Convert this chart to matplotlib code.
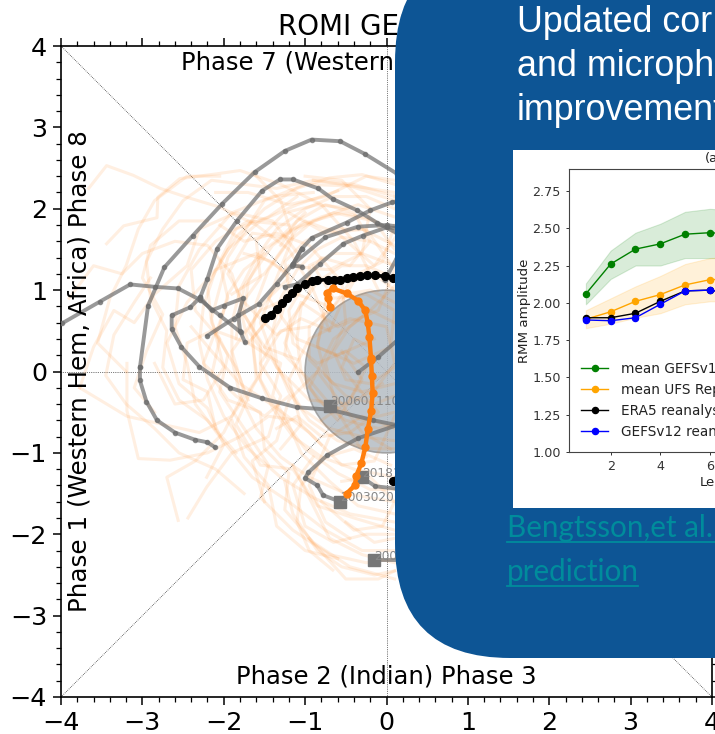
#!/usr/bin/env python3
"""ROMI phase diagram with the slide panel and skill inset laid over it."""

import matplotlib

matplotlib.use("Agg")
import matplotlib.pyplot as plt
from matplotlib.lines import Line2D
from matplotlib.patches import Circle, FancyBboxPatch, Rectangle

W, H = 715, 734

# faint ensemble members, (x, y)
orange_tracks = [
    [(-3.66, 2.25), (-3.44, 2.53), (-3.11, 2.41), (-2.78, 2.25), (-2.45, 2.14), (-2.05, 2.02), (-1.6, 1.8), (-1.2, 1.5), (-0.9, 1.0), (-0.7, 0.5)],
    [(-3.44, 1.57), (-3.23, 1.79), (-2.82, 1.89), (-2.81, 2.14), (-2.54, 2.37), (-2.08, 2.43), (-1.8, 2.47), (-1.3, 2.3), (-0.8, 2.05), (-0.4, 1.6), (-0.1, 1.0)],
    [(-3.9, 0.9), (-3.6, 1.3), (-3.25, 1.2), (-3.0, 1.45), (-2.6, 1.6), (-2.2, 1.55), (-1.9, 1.2), (-1.75, 0.7), (-1.5, 0.3), (-1.1, 0.15)],
    [(-3.77, -0.2), (-3.6, 0.3), (-3.35, 0.75), (-3.1, 0.6), (-2.85, 0.95), (-2.45, 1.3), (-2.3, 1.75), (-1.85, 1.95), (-1.4, 1.85), (-1.05, 1.4)],
    [(-3.19, 0.1), (-3.19, -0.48), (-3.05, -1.07), (-2.66, -1.09), (-2.2, -1.0), (-1.8, -0.8), (-1.45, -0.55), (-1.1, -0.6), (-0.8, -0.9)],
    [(-3.77, -0.2), (-3.19, -0.55), (-2.75, -0.65), (-2.3, -0.75), (-1.9, -0.55), (-1.6, -0.1), (-1.65, 0.4), (-1.3, 0.85)],
    [(-2.56, -1.83), (-2.7, -1.3), (-2.35, -1.1), (-2.0, -0.75), (-1.75, -0.25), (-1.9, 0.25), (-1.55, 0.75), (-1.1, 0.95), (-0.7, 0.8)],
    [(-2.44, -1.8), (-2.21, -1.42), (-1.9, -1.0), (-1.45, -0.8), (-1.3, -0.3), (-1.55, 0.1), (-1.3, 0.5), (-0.95, 0.55)],
    [(-2.21, -1.3), (-2.0, -0.9), (-2.2, -0.45), (-2.55, -0.15), (-2.7, 0.35), (-2.45, 0.85), (-2.1, 1.25), (-1.6, 1.45), (-1.2, 1.2)],
    [(-2.85, 0.1), (-2.6, -0.4), (-2.25, -0.35), (-2.0, 0.05), (-2.15, 0.65), (-1.95, 1.4), (-1.5, 2.1), (-1.0, 2.3), (-0.45, 2.28), (0.1, 2.1)],
    [(-1.65, 2.45), (-1.3, 2.1), (-1.15, 1.65), (-1.35, 1.15), (-1.55, 0.6), (-1.35, 0.05), (-0.95, -0.35), (-0.45, -0.4), (-0.05, -0.15)],
    [(-1.0, 2.4), (-0.55, 2.35), (-0.2, 2.0), (-0.3, 1.45), (-0.7, 1.25), (-1.2, 1.3), (-1.45, 0.9), (-1.1, 0.4), (-0.6, 0.2), (-0.15, 0.4)],
    [(-0.9, 2.35), (-0.35, 2.27), (0.1, 2.2), (0.15, 1.7), (-0.15, 1.3), (-0.6, 1.7), (-1.0, 1.85), (-1.4, 1.55), (-1.75, 1.05), (-1.85, 0.4)],
    [(-1.2, 1.95), (-0.75, 1.7), (-0.25, 1.75), (0.1, 1.25), (-0.1, 0.75), (-0.6, 0.55), (-1.05, 0.85), (-1.25, 0.35), (-1.0, -0.2)],
    [(-1.5, -1.6), (-1.65, -1.1), (-1.35, -0.85), (-1.2, -0.35), (-0.85, 0.0), (-0.55, -0.4), (-0.3, -0.75), (0.05, -0.95)],
    [(-1.15, -1.15), (-0.95, -1.55), (-0.7, -2.05), (-0.3, -2.25), (0.1, -2.35)],
    [(-0.66, -2.44), (-0.95, -2.2), (-1.1, -1.85), (-1.05, -1.4), (-0.75, -1.05), (-0.4, -0.95), (0.05, -1.15)],
    [(-0.95, -2.05), (-0.5, -2.55), (-0.1, -2.55), (0.1, -2.45)],
    [(-0.45, -2.05), (-0.75, -1.85), (-0.95, -1.4), (-0.7, -0.8), (-0.3, -0.55), (0.1, -0.7)],
    [(-0.8, -1.6), (-0.4, -1.95), (-0.05, -1.9), (0.1, -1.6), (-0.2, -1.3), (-0.55, -1.35)],
    [(-0.5, -1.85), (-0.15, -2.1), (0.1, -2.05)],
    [(-1.3, -0.95), (-1.05, -0.65), (-1.2, -0.1), (-0.95, 0.4), (-0.45, 0.65), (0.0, 0.55), (0.1, 0.1), (-0.2, -0.3)],
    [(-0.9, 1.3), (-0.65, 0.9), (-0.25, 0.95), (0.1, 0.75), (0.05, 0.3), (-0.4, 0.1), (-0.85, 0.3), (-0.75, 0.85)],
    [(-2.05, 1.8), (-1.75, 1.6), (-1.35, 1.7), (-0.95, 1.55), (-0.55, 1.1), (-0.5, 0.6), (-0.75, 0.1), (-0.6, -0.5), (-0.25, -1.05)],
    [(-2.4, 0.55), (-2.15, 0.25), (-1.8, -0.15), (-1.35, -0.45), (-0.95, -0.75), (-0.55, -1.15), (-0.15, -1.1), (0.1, -0.55)],
    [(-2.1, 2.2), (-1.7, 2.2), (-1.2, 2.05), (-0.75, 2.15), (-0.25, 2.4), (0.1, 2.35)],
    [(-1.9, 0.95), (-1.5, 1.2), (-1.1, 1.75), (-0.65, 1.95), (-0.15, 1.85), (0.1, 1.5)],
    [(-1.2, -0.3), (-1.5, -0.55), (-1.85, -0.3), (-2.25, 0.1), (-2.1, 0.5), (-1.7, 0.35), (-1.35, 0.75)],
    [(-0.55, 0.25), (-0.3, -0.1), (-0.6, -0.6), (-0.95, -0.2), (-0.65, 0.4), (-0.2, 0.75), (0.1, 1.05)],
    [(0.1, 2.3), (-0.3, 2.42), (-0.7, 2.38), (-1.1, 2.25), (-1.5, 2.0), (-1.85, 1.65), (-2.1, 1.25), (-2.25, 0.8), (-2.3, 0.35), (-2.2, -0.1), (-2.0, -0.55), (-1.7, -0.95), (-1.3, -1.3), (-0.9, -1.55), (-0.45, -1.75), (0.1, -1.85)],
    [(0.1, 2.0), (-0.25, 2.15), (-0.65, 2.15), (-1.0, 2.0), (-1.35, 1.75), (-1.6, 1.4), (-1.8, 1.0), (-1.9, 0.6), (-1.9, 0.15), (-1.8, -0.3), (-1.6, -0.7), (-1.3, -1.05), (-0.95, -1.3), (-0.5, -1.5), (0.1, -1.6)],
    [(0.1, 1.7), (-0.2, 1.88), (-0.55, 1.95), (-0.9, 1.85), (-1.2, 1.6), (-1.45, 1.25), (-1.6, 0.85), (-1.65, 0.4), (-1.6, 0.0), (-1.4, -0.45), (-1.15, -0.8), (-0.8, -1.05), (-0.4, -1.2), (0.1, -1.3)],
    [(0.1, 1.45), (-0.2, 1.6), (-0.55, 1.65), (-0.85, 1.5), (-1.1, 1.25), (-1.3, 0.9), (-1.4, 0.5), (-1.35, 0.1), (-1.2, -0.25), (-0.95, -0.6), (-0.6, -0.85), (-0.2, -0.95), (0.1, -0.95)],
    [(0.1, 1.15), (-0.25, 1.3), (-0.55, 1.3), (-0.85, 1.1), (-1.05, 0.8), (-1.1, 0.4), (-1.05, 0.0), (-0.85, -0.35), (-0.5, -0.6), (-0.1, -0.7), (0.1, -0.65)],
    [(0.1, 0.85), (-0.2, 1.0), (-0.5, 0.95), (-0.75, 0.7), (-0.85, 0.35), (-0.75, -0.05), (-0.5, -0.3), (-0.15, -0.4), (0.1, -0.3)],
    [(0.1, 2.15), (-0.4, 2.3), (-0.9, 2.35), (-1.35, 2.25), (-1.75, 2.3), (-2.15, 2.35), (-2.5, 2.1), (-2.75, 1.75), (-2.95, 1.35), (-2.9, 0.9), (-2.7, 0.5), (-2.75, 0.05), (-2.55, -0.35), (-2.2, -0.6), (-1.85, -1.0)],
    [(-0.9, 2.2), (-1.4, 2.15), (-1.9, 1.95), (-2.3, 1.5), (-2.55, 1.05), (-2.6, 0.55), (-2.45, 0.1), (-2.35, -0.4), (-2.05, -0.8), (-1.65, -1.3), (-1.2, -1.6), (-0.75, -1.95), (-0.3, -2.2), (0.1, -2.2)],
    [(-1.2, 1.8), (-1.7, 1.85), (-2.1, 1.6), (-2.4, 1.25), (-2.35, 0.75), (-2.05, 0.4), (-2.15, -0.05), (-1.95, -0.35), (-1.55, -0.5), (-1.5, -0.95), (-1.2, -1.25), (-1.25, -1.7), (-0.9, -2.1), (-0.45, -2.4), (0.1, -2.55)],
    [(-0.4, 2.0), (-0.85, 2.05), (-1.25, 1.95), (-1.6, 1.6), (-1.55, 1.15), (-1.8, 0.8), (-1.7, 0.35), (-1.3, 0.1), (-1.4, -0.3), (-1.2, -0.65), (-1.05, -1.0), (-0.7, -1.35), (-0.35, -1.65), (0.1, -1.75)],
    [(-2.9, 1.15), (-3.1, 0.85), (-3.35, 0.45), (-3.45, -0.05), (-3.2, -0.4), (-2.85, -0.7), (-2.55, -1.0), (-2.1, -1.2), (-1.75, -1.5)],
    [(-1.5, 1.45), (-1.75, 1.25), (-1.95, 0.95), (-2.05, 0.55), (-2.45, 0.35), (-2.5, -0.1), (-2.2, -0.25), (-2.1, -0.7)],
    [(-1.3, 1.55), (-1.1, 1.85), (-0.75, 2.05), (-0.4, 1.95), (-0.2, 1.6), (-0.45, 1.3), (-0.8, 1.4), (-1.0, 1.1), (-1.2, 0.75), (-1.15, 0.35), (-0.85, 0.1), (-0.5, 0.25), (-0.25, 0.05), (-0.45, -0.35), (-0.8, -0.6)],
    [(-1.25, -1.35), (-1.15, -1.75), (-0.85, -2.2), (-0.55, -2.4), (-0.15, -2.5), (0.1, -2.45)],
    [(-0.9, -1.05), (-1.15, -1.4), (-1.0, -1.9), (-0.65, -2.1), (-0.25, -2.0), (0.1, -2.0)],
    [(-1.9, -0.6), (-1.75, -1.05), (-1.45, -1.4), (-1.35, -1.9), (-1.0, -2.2), (-0.6, -2.3)],
    [(-2.05, 2.4), (-2.45, 2.4), (-2.85, 2.1), (-3.05, 1.75), (-3.2, 1.3), (-3.4, 0.9), (-3.55, 0.35), (-3.2, 0.0)],
    [(-2.2, 1.85), (-2.55, 1.85), (-2.9, 1.55), (-3.0, 1.15), (-2.75, 0.7), (-2.95, 0.25), (-3.1, -0.2), (-2.85, -0.5)],
    [(-1.1, 2.15), (-1.45, 1.9), (-1.85, 1.75), (-2.05, 1.35), (-1.95, 0.9), (-2.1, 0.45), (-1.85, 0.05), (-1.7, -0.35)],
    [(0.1, 1.9), (-0.35, 2.05), (-0.8, 1.9), (-1.15, 1.75), (-1.5, 1.5), (-1.7, 1.1), (-1.75, 0.7), (-1.55, 0.35), (-1.55, -0.1), (-1.3, -0.55), (-1.0, -0.95), (-0.6, -1.25), (-0.2, -1.45), (0.1, -1.45)],
    [(0.1, 1.55), (-0.3, 1.75), (-0.7, 1.75), (-1.0, 1.6), (-1.25, 1.35), (-1.2, 1.0), (-1.3, 0.65), (-1.5, 0.3), (-1.25, -0.1), (-1.05, -0.45), (-0.7, -0.7), (-0.3, -0.8), (0.1, -0.85)],
    [(0.1, 1.3), (-0.3, 1.45), (-0.65, 1.45), (-0.95, 1.3), (-0.95, 0.95), (-1.2, 0.6), (-1.25, 0.2), (-0.95, -0.1), (-0.7, -0.4), (-0.3, -0.6), (0.1, -0.5)],
    [(0.1, 1.0), (-0.15, 1.2), (-0.45, 1.1), (-0.65, 0.8), (-0.95, 0.55), (-0.95, 0.15), (-0.65, -0.15), (-0.3, -0.25), (0.1, -0.15)],
    [(0.1, 0.6), (-0.2, 0.75), (-0.45, 0.55), (-0.65, 0.25), (-0.5, -0.1), (-0.2, -0.15), (0.1, 0.05)],
    [(-0.2, 0.3), (-0.4, 0.4), (-0.55, 0.05), (-0.35, -0.2), (-0.1, -0.5), (-0.45, -0.75), (-0.8, -0.8), (-1.1, -0.55), (-1.35, -0.7)],
    [(-1.75, 1.45), (-1.4, 1.35), (-1.2, 1.15), (-1.5, 0.85), (-1.7, 0.5), (-1.45, 0.15), (-1.65, -0.2), (-1.85, -0.65), (-1.55, -1.15), (-1.15, -1.2), (-0.85, -1.65), (-0.4, -1.8), (0.1, -1.95)],
    [(-0.6, 2.22), (-1.1, 2.05), (-1.55, 1.85), (-1.95, 1.5), (-2.2, 1.05), (-2.15, 0.6), (-1.95, 0.2), (-2.05, -0.25), (-1.75, -0.7), (-1.45, -1.15), (-1.55, -1.55), (-1.15, -1.95), (-0.7, -2.25), (-0.25, -2.35), (0.1, -2.3)],
    [(-1.0, 1.95), (-1.3, 1.65), (-1.65, 1.7), (-1.95, 1.2), (-1.75, 0.85), (-1.35, 0.45), (-1.05, 0.65), (-0.7, 0.5), (-0.55, 0.85), (-0.35, 1.2), (-0.05, 1.35), (0.1, 1.8)],
]
grey_tracks = [
    [(-3.03, 0.05), (-2.93, 0.81), (-2.73, 1.28), (-2.38, 1.67), (-2.02, 2.06), (-1.62, 2.45), (-1.25, 2.71), (-0.92, 2.85), (-0.57, 2.83), (-0.26, 2.67), (0.13, 2.43)],
    [(-3.03, 0.05), (-3.03, -0.11), (-2.95, -0.37), (-2.82, -0.6), (-2.6, -0.75), (-2.35, -0.84), (-2.2, -0.87), (-2.11, -0.93)],
    [(-1.74, 0.36), (-1.8, 0.5), (-1.82, 0.69), (-1.76, 0.9), (-2.0, 0.81), (-2.15, 0.75), (-2.29, 0.91), (-2.2, 1.14), (-2.08, 1.51), (-1.84, 1.85), (-1.53, 2.22), (-1.31, 2.36), (-1.15, 2.36), (-0.84, 2.25), (-0.66, 2.12), (-0.36, 1.98), (-0.12, 1.83), (0.13, 1.7)],
    [(-4.3, 0.4), (-3.99, 0.59), (-3.52, 0.86), (-3.15, 1.07), (-2.84, 1.04), (-2.56, 1.02), (-2.29, 0.88), (-2.05, 0.69), (-1.79, 0.48)],
    [(-2.29, 0.91), (-2.41, 0.79), (-2.64, 0.69), (-2.64, 0.52), (-2.52, 0.3), (-2.3, 0.06), (-1.92, -0.2), (-1.53, -0.33), (-1.1, -0.44), (-0.69, -0.47), (-0.16, -0.6), (0.13, -0.66)],
    [(-2.2, 0.44), (-1.88, 0.65), (-1.57, 0.83), (-1.35, 1.08), (-1.15, 1.32), (-1.04, 1.51), (-0.92, 1.64), (-0.49, 1.83), (-0.2, 1.98), (0.07, 2.08), (0.2, 2.1)],
    [(-1.04, 1.29), (-1.16, 1.3), (-1.04, 1.51)],
    [(-1.25, 1.04), (-1.1, 1.07), (-0.82, 1.32), (-0.53, 1.57), (-0.29, 1.67), (0.0, 1.77), (0.15, 1.76)],
    [(-1.15, 1.32), (-0.75, 1.65), (-0.35, 1.78), (0.0, 1.8), (0.15, 1.78)],
    [(0.13, -0.66), (-0.35, -0.82), (-0.73, -1.03), (-0.96, -1.24), (-1.0, -1.31), (-0.85, -1.4), (-0.78, -1.52), (-0.57, -1.6)],
    [(-0.3, -1.3), (-0.14, -1.41), (0.13, -1.44)],
    [(-0.15, -2.32), (0.2, -2.32)],
    [(-0.35, -0.01), (-0.1, 0.18), (0.13, 0.38)],
    [(-0.02, 1.12), (0.13, 1.4)],
]
start_x = [-0.69, -0.57, -0.3, -0.15]
start_y = [-0.42, -1.6, -1.3, -2.32]
start_labels = ["2006011100", "2003020100", "2018120100", "2002010100"]

black_x = [-1.49, -1.42, -1.35, -1.28, -1.22, -1.16, -1.1, -1.0, -0.92, -0.85, -0.72, -0.65, -0.57, -0.49, -0.41, -0.32, -0.24, -0.14, -0.02, 0.08, 0.3, 0.6, 0.4, 0.08]
black_y = [0.66, 0.7, 0.77, 0.84, 0.9, 0.96, 1.02, 1.08, 1.11, 1.12, 1.13, 1.13, 1.13, 1.15, 1.16, 1.17, 1.18, 1.18, 1.17, 1.15, 1.1, 0.0, -1.2, -1.34]
mean_x = [-0.49, -0.39, -0.37, -0.31, -0.26, -0.23, -0.19, -0.17, -0.18, -0.19, -0.19, -0.21, -0.23, -0.26, -0.35, -0.49, -0.66, -0.73, -0.72, -0.69]
mean_y = [-1.5, -1.4, -1.28, -1.13, -0.93, -0.71, -0.49, -0.27, -0.05, 0.14, 0.16, 0.42, 0.59, 0.75, 0.87, 0.96, 1.02, 0.97, 0.9, 0.79]

# inset panel
lead = [1, 2, 3, 4, 5, 6, 7]
gefs_mean = [2.06, 2.26, 2.36, 2.395, 2.46, 2.47, 2.46]
gefs_hi = [2.13, 2.35, 2.47, 2.53, 2.61, 2.63, 2.62]
gefs_lo = [1.99, 2.16, 2.25, 2.25, 2.30, 2.30, 2.30]
ufs_mean = [1.89, 1.94, 2.01, 2.055, 2.12, 2.155, 2.16]
ufs_hi = [1.95, 2.03, 2.11, 2.18, 2.26, 2.30, 2.31]
ufs_lo = [1.83, 1.86, 1.90, 1.93, 1.99, 2.01, 2.01]
era5 = [1.90, 1.90, 1.93, 2.01, 2.08, 2.085, 2.06]
gefs_rean = [1.885, 1.88, 1.90, 1.99, 2.08, 2.085, 2.06]
inset_labels = ["mean GEFSv12", "mean UFS Replay", "ERA5 reanalysis", "GEFSv12 reanalysis"]
inset_yticks = [1.00, 1.25, 1.50, 1.75, 2.00, 2.25, 2.50, 2.75]
ticks = [-4, -3, -2, -1, 0, 1, 2, 3, 4]


def axes_px(left, top, right, bottom):
    return [left / W, 1 - bottom / H, (right - left) / W, (bottom - top) / H]


fig = plt.figure(figsize=(W / 100, H / 100), dpi=100, facecolor="white")

# main phase diagram
ax = fig.add_axes(axes_px(61, 46, 712, 697), zorder=1)
ax.set_xlim(-4, 4)
ax.set_ylim(-4, 4)
ax.set_xticks(ticks)
ax.set_yticks(ticks)
ax.set_xticks([i * 0.2 for i in range(-20, 21)], minor=True)
ax.set_yticks([i * 0.2 for i in range(-20, 21)], minor=True)
ax.tick_params(which="major", length=6, width=1.1, labelsize=18.3, pad=4,
               top=True, right=True)
ax.tick_params(which="minor", length=3.4, width=0.9, top=True, right=True)
for s in ax.spines.values():
    s.set_linewidth(1.2)

ax.plot([-4, 4], [-4, 4], color="k", lw=0.5, ls=":", zorder=2)
ax.plot([-4, 4], [4, -4], color="k", lw=0.5, ls=":", zorder=2)
ax.plot([-4, 4], [0, 0], color="k", lw=0.5, ls=":", zorder=2)
ax.plot([0, 0], [-4, 4], color="k", lw=0.5, ls=":", zorder=2)

ax.add_patch(Circle((0, 0), 1, facecolor="#b4bcc4", edgecolor="#9a9a9a", lw=1.2,
                    alpha=0.85, zorder=2.5))
for tr in orange_tracks:
    ax.plot([p[0] for p in tr], [p[1] for p in tr], color="#ff7f0e", lw=2.2,
            alpha=0.12, solid_joinstyle="round", zorder=3)

for tr in grey_tracks:
    ax.plot([p[0] for p in tr], [p[1] for p in tr], color="#6e6e6e", lw=2.8,
            alpha=0.7, marker="o", ms=3, zorder=5)
ax.plot(start_x, start_y, ls="none", marker="s", ms=9, color="#777777", zorder=6)
for x, y, lab in zip(start_x, start_y, start_labels):
    ax.text(x + 0.0, y - 0.03, lab, fontsize=8.7, color="#888888", va="bottom", zorder=6)

ax.plot(black_x, black_y, color="k", lw=2.6, marker="o", ms=5.6, zorder=7)
ax.plot(mean_x, mean_y, color="#ff7f0e", lw=3.2, marker="o", ms=5, zorder=8)

phase_fs = 17.5
ax.text(0, 3.8, "Phase 7 (Western Pacific) Phase 6", fontsize=phase_fs, ha="center", va="center", zorder=9)
ax.text(0, -3.75, "Phase 2 (Indian) Phase 3", fontsize=phase_fs, ha="center", va="center", zorder=9)
ax.text(-3.77, 0, "Phase 1 (Western Hem, Africa) Phase 8", fontsize=17.7, rotation=90,
        ha="center", va="center", zorder=9)
ax.set_title("ROMI GEFSv12", fontsize=20, x=(278 - 61) / 651, ha="left", pad=8)

# slide panel in pixel coordinates
ov = fig.add_axes([0, 0, 1, 1], zorder=2)
ov.set_xlim(0, W)
ov.set_ylim(H, 0)
ov.axis("off")
ov.patch.set_alpha(0)
R = 115
ov.add_patch(FancyBboxPatch((395 + R, -53 + R), 800 - 2 * R, 711 - 2 * R,
                            boxstyle=f"round,pad={R},rounding_size={R}",
                            facecolor="#0d5595", edgecolor="none", clip_on=False))
ov.add_patch(Rectangle((513, 150), 220, 358, facecolor="white", edgecolor="none"))
for y, line in zip([32, 76, 120], ["Updated cor", "and microph", "improvement"]):
    ov.text(517, y, line, color="white", fontsize=25.8, family="Liberation Sans", va="baseline")
link = "#008c9c"
ov.text(507, 537, "Bengtsson,et al. ", color=link, fontsize=21.3, family="Lato", va="baseline")
ov.text(507, 581, "prediction", color=link, fontsize=21.3, family="Lato", va="baseline")
ov.add_line(Line2D([507, 715], [541.5, 541.5], color=link, lw=1.3))
ov.add_line(Line2D([507, 638], [585.5, 585.5], color=link, lw=1.3))
ov.text(705, 158.5, "(a)", fontsize=9.5, color="#222222", ha="left", va="center")
ov.text(700, 483, "Lead", fontsize=9.5, color="#222222", ha="left", va="center")

# skill inset
ins = fig.add_axes(axes_px(569, 169, 740, 452), zorder=3)
ins.set_xlim(0.32, 0.32 + 171 / 24.8)
ins.set_ylim(1.0, 2.897)
ins.fill_between(lead, gefs_lo, gefs_hi, color="green", alpha=0.15, lw=0.8)
ins.fill_between(lead, ufs_lo, ufs_hi, color="orange", alpha=0.15, lw=0.8)
ins.plot(lead, gefs_mean, color="green", lw=1, marker="o", ms=4.4, label=inset_labels[0])
ins.plot(lead, ufs_mean, color="orange", lw=1, marker="o", ms=4.4, label=inset_labels[1])
ins.plot(lead, era5, color="k", lw=1, marker="o", ms=4.4, label=inset_labels[2])
ins.plot(lead, gefs_rean, color="b", lw=1, marker="o", ms=4.4, label=inset_labels[3])
ins.set_xticks([2, 4, 6])
ins.set_yticks(inset_yticks)
ins.set_yticklabels([f"{v:.2f}" for v in inset_yticks])
ins.tick_params(labelsize=9.2, length=2.5, width=0.7, colors="#333333")
for s in ins.spines.values():
    s.set_linewidth(0.8)
    s.set_color("#444444")
ins.set_ylabel("RMM amplitude", fontsize=9.6, color="#222222", labelpad=1)
ins.legend(loc="lower left", bbox_to_anchor=(0.0, 0.004), frameon=False, fontsize=9.8,
           labelspacing=0.5, handletextpad=0.95, labelcolor="#222222")

fig.savefig("out.png", dpi=100)
